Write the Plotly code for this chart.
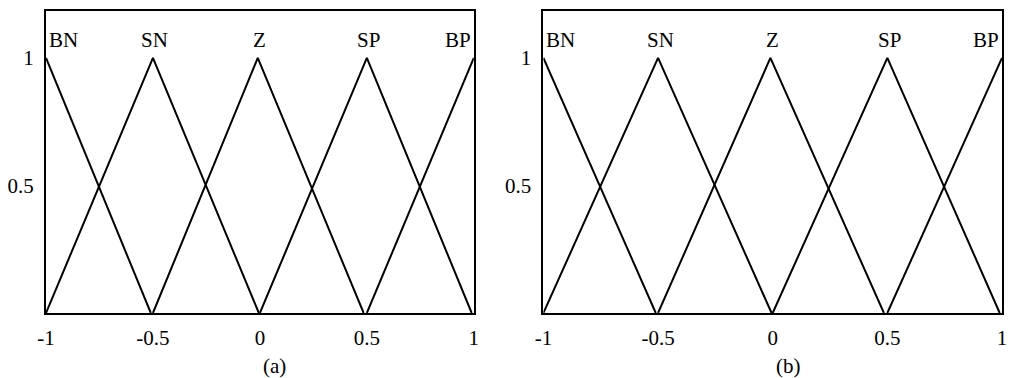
import plotly.graph_objects as go
from plotly.subplots import make_subplots

# membership function breakpoints
names = ["BN", "SN", "Z", "SP", "BP"]
bn_x = [-1.0, -0.51]
bn_y = [1, 0]
sn_x = [-1.0, -0.5, -0.005]
sn_y = [0, 1, 0]
z_x = [-0.5, -0.01, 0.485]
z_y = [0, 1, 0]
sp_x = [0.0, 0.5, 0.99]
sp_y = [0, 1, 0]
bp_x = [0.5, 1.0]
bp_y = [0, 1]

x_ticks = [-1, -0.5, 0, 0.5, 1]
x_ticktext = ["-1", "-0.5", "0", "0.5", "1"]
y_ticks = [0.5, 1]
y_ticktext = ["0.5", "1"]
panel_labels = ["(a)", "(b)"]

FONT = "Liberation Serif"
FSIZE = 21
LINE = "black"

series = [(bn_x, bn_y), (sn_x, sn_y), (z_x, z_y), (sp_x, sp_y), (bp_x, bp_y)]

fig = make_subplots(rows=1, cols=2)

for col in (1, 2):
    for (xs, ys), name in zip(series, names):
        fig.add_trace(
            go.Scatter(x=xs, y=ys, mode="lines", name=name,
                       line=dict(color=LINE, width=2), showlegend=False,
                       hoverinfo="skip"),
            row=1, col=col,
        )
    ax = "" if col == 1 else str(col)
    # set names next to the peaks
    peaks = [xs[ys.index(1)] for xs, ys in series]
    for name, px in zip(names, peaks):
        if name == "BN":
            anchor, shift = "left", 1
        elif name == "BP":
            anchor, shift = "right", -1
        else:
            anchor, shift = "center", 2
        fig.add_annotation(
            x=px, y=1.07, xref="x" + ax, yref="y" + ax, text=name,
            showarrow=False, xanchor=anchor, yanchor="middle", xshift=shift,
            font=dict(family=FONT, size=FSIZE, color="black"),
        )
    fig.add_annotation(
        x=0.07, y=0, xref="x" + ax, yref="y" + ax, text=panel_labels[col - 1],
        showarrow=False, xanchor="center", yanchor="middle", yshift=-53,
        font=dict(family=FONT, size=FSIZE, color="black"),
    )

fig.update_xaxes(
    range=[-1, 1], tickvals=x_ticks, ticktext=x_ticktext,
    showgrid=False, zeroline=False, showline=True, mirror=True,
    linecolor="black", linewidth=2, ticks="", ticklabelstandoff=5,
    tickfont=dict(family=FONT, size=FSIZE, color="black"),
)
fig.update_yaxes(
    range=[0, 1.184], tickvals=y_ticks, ticktext=y_ticktext,
    showgrid=False, zeroline=False, showline=True, mirror=True,
    linecolor="black", linewidth=2, ticks="", ticklabelstandoff=6,
    tickfont=dict(family=FONT, size=FSIZE, color="black"),
)
fig.update_layout(
    width=1011, height=378,
    margin=dict(l=46, r=4, t=11, b=65),
    plot_bgcolor="white", paper_bgcolor="white",
)
fig.update_xaxes(domain=[0, 0.4475], row=1, col=1)
fig.update_xaxes(domain=[0.5203, 1], row=1, col=2)

# drop the default 8px body margin so the figure fills the window exactly
fig.write_html(
    "out.html",
    config={"displayModeBar": False},
    post_script="document.body.style.margin='0';document.body.style.overflow='hidden';",
)
